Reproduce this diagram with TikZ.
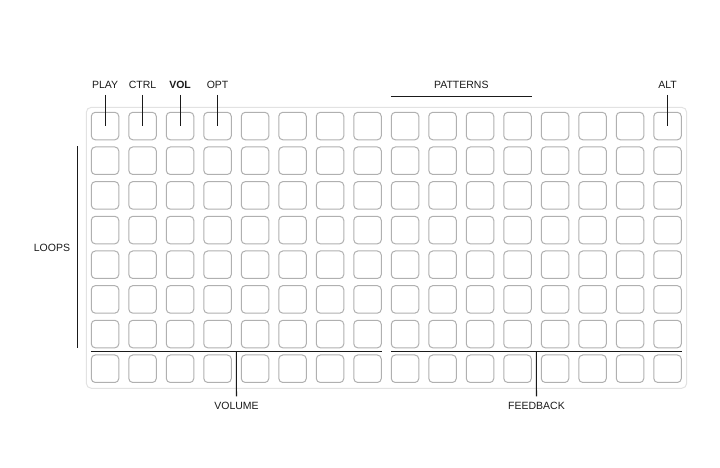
\documentclass[tikz,border=0pt]{standalone}
\usepackage{fontspec}
\setmainfont{Liberation Sans}
\usetikzlibrary{positioning}
\definecolor{keyline}{HTML}{B0B0B0}
\definecolor{panelline}{HTML}{E2E2E2}
\definecolor{ink}{HTML}{1A1A1A}

\begin{document}
\begin{tikzpicture}[x=1pt,y=-1pt,node distance=17pt,thick]
\tikzstyle{key}=[draw=keyline, fill=white, rounded corners=4pt, minimum width=27.5pt, minimum height=27.5pt, inner sep=0pt, line width=1pt]
\tikzstyle{lbl}=[font=\fontsize{10.5}{12}\selectfont, text=ink, inner sep=5.5pt]
\tikzstyle{wire}=[draw=ink, line width=1.1pt]

\useasboundingbox (0,0) rectangle (720,467);
\draw[panelline, fill=white, rounded corners=5pt, line width=1pt] (86.3,107.3) rectangle (686.7,388.3);

% 16 x 8 key grid
\foreach \c in {1,...,16}
  \foreach \r in {1,...,8}
    \node[key] (b-\c-\r) at ({105.05+(\c-1)*37.5},{126.05+(\r-1)*34.67}) {};

% top row labels
\node[lbl]	(play)	[above=of b-1-1]	{PLAY};
\node[lbl]	(ctrl)	[above=of b-2-1]	{CTRL};
\node[lbl]	(vol)	[above=of b-3-1]	{\bfseries VOL};
\node[lbl]	(opt)	[above=of b-4-1]	{OPT};
\node[lbl]	(alt)	[above=of b-16-1]	{ALT};

\draw[wire] (play) -- (b-1-1.center);
\draw[wire] (ctrl) -- (b-2-1.center);
\draw[wire] (vol) -- (b-3-1.center);
\draw[wire] (opt) -- (b-4-1.center);
\draw[wire] (alt) -- (b-16-1.center);

% patterns bracket
\coordinate (patl) at ([yshift=15pt]b-9-1.north west);
\coordinate (patr) at ([yshift=15pt]b-12-1.north east);
\draw[wire] (patl) -- (patr) node[lbl, midway, above=2.5pt] (patterns) {PATTERNS};

% loops bracket
\coordinate (loopt) at ([xshift=-13.6pt]b-1-2.north west);
\coordinate (loopb) at ([xshift=-13.6pt]b-1-7.south west);
\draw[wire] (loopt) -- (loopb);
\node[lbl] (loops) at (52,247.5) {LOOPS};

% bottom row brackets
\coordinate (voll) at ([yshift=-3.6pt]b-1-7.south west);
\coordinate (volr) at ([yshift=-3.6pt]b-8-7.south east);
\coordinate (voltap) at (236.3,351.4);
\node[lbl] (volume) at (236.5,406) {VOLUME};
\draw[wire] (voll) -- (volr);
\draw[wire] (voltap) -- (volume);

\coordinate (fbl) at ([yshift=-3.6pt]b-9-7.south west);
\coordinate (fbr) at ([yshift=-3.6pt]b-16-7.south east);
\coordinate (fbtap) at (536.3,351.4);
\node[lbl] (feedback) at (536.5,406) {FEEDBACK};
\draw[wire] (fbl) -- (fbr);
\draw[wire] (fbtap) -- (feedback);
\end{tikzpicture}
\end{document}
